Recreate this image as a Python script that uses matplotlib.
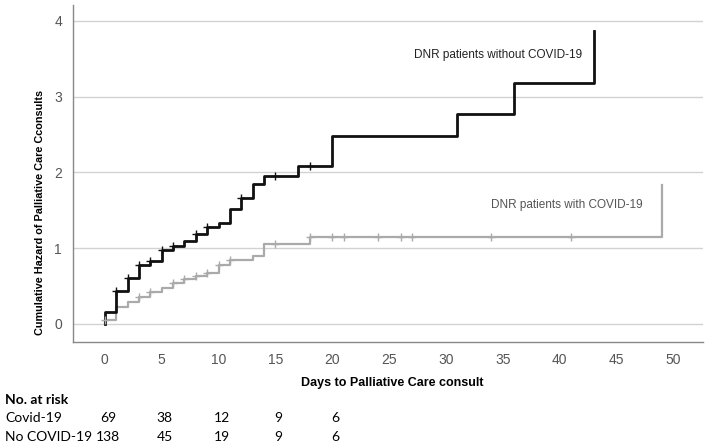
import matplotlib.pyplot as plt
import numpy as np

# Cumulative hazard steps (day of event, hazard after event)
no_cov_days = [0, 1, 2, 3, 4, 5, 6, 7, 8, 9, 10, 11, 12, 13, 14, 17, 20, 31, 36, 43]
no_cov_haz = [0.16, 0.43, 0.60, 0.77, 0.83, 0.98, 1.03, 1.10, 1.18, 1.28, 1.33,
              1.52, 1.66, 1.84, 1.95, 2.09, 2.48, 2.77, 3.18, 3.87]
no_cov_cens = [1, 2, 3, 4, 5, 6, 8, 9, 12, 15, 18]

cov_days = [0, 1, 2, 3, 4, 5, 6, 7, 8, 9, 10, 11, 13, 14, 18, 49]
cov_haz = [0.05, 0.22, 0.29, 0.36, 0.42, 0.47, 0.54, 0.59, 0.63, 0.67, 0.78,
           0.84, 0.90, 1.05, 1.15, 1.83]
cov_cens = [0, 3, 4, 6, 7, 8, 9, 10, 11, 15, 18, 20, 21, 24, 26, 27, 34, 41]

# number at risk table
risk_days = [0, 5, 10, 15, 20]
risk_cov = [69, 38, 12, 9, 6]
risk_no_cov = [138, 45, 19, 9, 6]

yticks = [0, 1, 2, 3, 4]
xticks = [0, 5, 10, 15, 20, 25, 30, 35, 40, 45, 50]


def haz_at(days, haz, t):
  i = np.searchsorted(days, t, side='right') - 1
  if i < 0:
    return 0.0
  return haz[i]


plt.rcParams['font.family'] = ['Liberation Sans', 'DejaVu Sans']

fig = plt.figure(figsize=(7.09, 4.48), dpi=100)
ax = fig.add_axes([0.103, 0.2366, 0.8885, 0.7524])

for y in yticks:
  ax.axhline(y, color='#d2d2d2', lw=1, zorder=0)

ax.step([0] + no_cov_days, [0] + no_cov_haz, where='post', color='#111111', lw=2, zorder=3)
ax.step([0] + cov_days, [0] + cov_haz, where='post', color='#aaaaaa', lw=1.6, zorder=2)

ax.plot(no_cov_cens, [haz_at(no_cov_days, no_cov_haz, t) for t in no_cov_cens],
        ls='none', marker='+', ms=6, mew=1, color='#111111', zorder=4)
ax.plot(cov_cens, [haz_at(cov_days, cov_haz, t) for t in cov_cens],
        ls='none', marker='+', ms=6, mew=1, color='#aaaaaa', zorder=3)

ax.text(42.0, 3.55, 'DNR patients without COVID-19', ha='right', va='center',
        fontsize=8.5, color='#222222')
ax.text(47.3, 1.57, 'DNR patients with COVID-19', ha='right', va='center',
        fontsize=8.5, color='#555555')

ax.set_xlim(-2.8, 52.6)
ax.set_ylim(-0.24, 4.21)
ax.set_xticks(xticks)
ax.set_yticks(yticks)
ax.tick_params(length=0, labelsize=10, labelcolor='#555555', pad=8)
for s in ['top', 'right']:
  ax.spines[s].set_visible(False)
for s in ['left', 'bottom']:
  ax.spines[s].set_color('#888888')
  ax.spines[s].set_linewidth(1)

ax.set_ylabel('Cumulative Hazard of Palliative Care Cconsults', fontsize=7.8,
              fontweight='bold')
ax.yaxis.set_label_coords(-0.044, 0.385)
fig.text(392 / 709, 1 - 383 / 448, 'Days to Palliative Care consult', ha='center',
         va='center', fontsize=9, fontweight='bold')

# number at risk table
tf = ['Lato', 'DejaVu Sans']
fig.text(5 / 709, 1 - 400 / 448, 'No. at risk', fontsize=10, fontweight='bold',
         va='center', family=tf)
fig.text(5 / 709, 1 - 418 / 448, 'Covid-19', fontsize=10, va='center', family=tf)
fig.text(5 / 709, 1 - 437 / 448, 'No COVID-19', fontsize=10, va='center', family=tf)
for d, a, b in zip(risk_days, risk_cov, risk_no_cov):
  xf = ax.transData.transform((d, 0))[0] / fig.bbox.width
  fig.text(xf + 3 / 709, 1 - 418 / 448, str(a), fontsize=10, va='center', ha='center', family=tf)
  fig.text(xf + 3 / 709, 1 - 437 / 448, str(b), fontsize=10, va='center', ha='center', family=tf)

fig.savefig('out.png', dpi=100)
